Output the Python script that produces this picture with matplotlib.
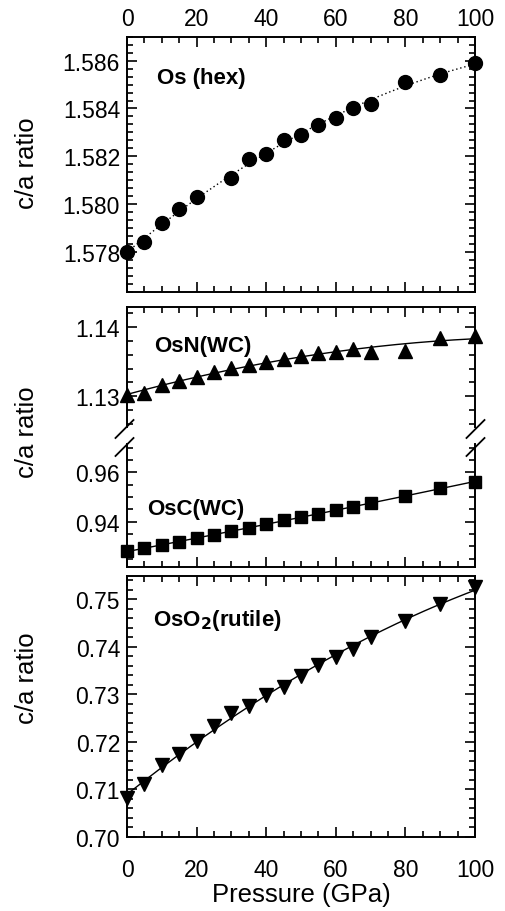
import numpy as np
import matplotlib
matplotlib.use("Agg")
import matplotlib.pyplot as plt
from matplotlib.ticker import MultipleLocator, AutoMinorLocator, FormatStrFormatter
from matplotlib.lines import Line2D

plt.rcParams['font.family'] = ['Liberation Sans', 'DejaVu Sans']

# ---------------- data ----------------
p_os = [0, 5, 10, 15, 20, 30, 35, 40, 45, 50, 55, 60, 65, 70, 80, 90, 100]
ca_os = [1.5780, 1.5784, 1.5792, 1.5798, 1.5803, 1.5811, 1.5819, 1.5821,
         1.5827, 1.5829, 1.5833, 1.5836, 1.5840, 1.5842, 1.5851, 1.5854, 1.5859]

p_wc = [0, 5, 10, 15, 20, 25, 30, 35, 40, 45, 50, 55, 60, 65, 70, 80, 90, 100]
ca_osn = [1.1302, 1.1305, 1.1316, 1.1322, 1.1328, 1.1335, 1.1341, 1.1345,
          1.1350, 1.1354, 1.1358, 1.1362, 1.1364, 1.1369, 1.1364, 1.1366,
          1.1385, 1.1387]
ca_osc = [0.9280, 0.9292, 0.9305, 0.9319, 0.9332, 0.9347, 0.9362, 0.9376,
          0.9389, 0.9405, 0.9419, 0.9431, 0.9446, 0.9459, 0.9474, 0.9505,
          0.9535, 0.9562]

p_oso2 = [0, 5, 10, 15, 20, 25, 30, 35, 40, 45, 50, 55, 60, 65, 70, 80, 90, 100]
ca_oso2 = [0.7081, 0.7111, 0.7151, 0.7174, 0.7202, 0.7234, 0.7260, 0.7276,
           0.7298, 0.7316, 0.7339, 0.7361, 0.7379, 0.7396, 0.7421, 0.7454,
           0.7490, 0.7525]

x_ticks = [0, 20, 40, 60, 80, 100]

# ---------------- layout helpers ----------------
W, H = 505, 912
fig = plt.figure(figsize=(W / 100, H / 100), dpi=100)

def add_ax(x0, y_top, x1, y_bot):
    return fig.add_axes([x0 / W, 1 - y_bot / H, (x1 - x0) / W, (y_bot - y_top) / H])

XL, XR = 127, 475
ax1 = add_ax(XL, 37.7, XR, 293)
ax2 = add_ax(XL, 308.3, XR, 428)
ax3 = add_ax(XL, 445, XR, 568.3)
ax4 = add_ax(XL, 577.3, XR, 837.7)

TICK_FS = 16.5
LAB_FS = 18.5
ANN_FS = 16

def style(ax):
    ax.set_xlim(0, 100)
    ax.xaxis.set_major_locator(MultipleLocator(20))
    ax.xaxis.set_minor_locator(MultipleLocator(5))
    ax.tick_params(which='both', direction='in', top=True, right=True,
                   width=1.2, labelsize=TICK_FS)
    ax.tick_params(which='major', length=7)
    ax.tick_params(which='minor', length=4)
    for s in ax.spines.values():
        s.set_linewidth(1.4)

def fit_line(ax, x, y, ls):
    c = np.polyfit(x, y, 2)
    xx = np.linspace(0, 100, 200)
    ax.plot(xx, np.polyval(c, xx), color='black', lw=1.0, ls=ls, zorder=2)

# ---- Os (hex) ----
style(ax1)
fit_line(ax1, p_os, ca_os, (0, (1, 2)))
ax1.plot(p_os, ca_os, 'o', color='black', ms=10, zorder=3, clip_on=False)
ax1.set_ylim(1.57633, 1.5870)
ax1.yaxis.set_major_locator(MultipleLocator(0.002))
ax1.yaxis.set_minor_locator(AutoMinorLocator(6))
ax1.yaxis.set_major_formatter(FormatStrFormatter('%.3f'))
ax1.tick_params(axis='x', labeltop=True, labelbottom=False, pad=5)
ax1.tick_params(axis='y', pad=5)
ax1.text(8.6, 1.58529, 'Os (hex)', fontsize=ANN_FS, fontweight='bold', va='center', ha='left')

# ---- OsN (WC) ----
style(ax2)
fit_line(ax2, p_wc, ca_osn, '-')
ax2.plot(p_wc, ca_osn, '^', color='black', ms=10, zorder=3, clip_on=False)
ax2.set_ylim(1.12552, 1.14288)
ax2.yaxis.set_major_locator(MultipleLocator(0.01))
ax2.yaxis.set_minor_locator(MultipleLocator(0.002))
ax2.yaxis.set_major_formatter(FormatStrFormatter('%.2f'))
ax2.spines['bottom'].set_visible(False)
ax2.tick_params(axis='x', which='both', bottom=False, labelbottom=False)
ax2.tick_params(axis='y', pad=5)
ax2.text(7.8, 1.13735, 'OsN(WC)', fontsize=ANN_FS, fontweight='bold', va='center', ha='left')

# ---- OsC (WC) ----
style(ax3)
fit_line(ax3, p_wc, ca_osc, '-')
ax3.plot(p_wc, ca_osc, 's', color='black', ms=8.5, zorder=3, clip_on=False)
ax3.set_ylim(0.9215, 0.97146)
ax3.yaxis.set_major_locator(MultipleLocator(0.02))
ax3.yaxis.set_minor_locator(MultipleLocator(0.005))
ax3.yaxis.set_major_formatter(FormatStrFormatter('%.2f'))
ax3.spines['top'].set_visible(False)
ax3.tick_params(axis='x', which='both', top=False, labelbottom=False)
ax3.tick_params(axis='y', pad=5)
ax3.text(5.7, 0.94543, 'OsC(WC)', fontsize=ANN_FS, fontweight='bold', va='center', ha='left')

# break marks
for xc in (124.5, 475.5):
    for yc in (430, 448):
        fig.add_artist(Line2D([(xc - 9) / W, (xc + 9) / W],
                              [1 - (yc + 9) / H, 1 - (yc - 9) / H],
                              color='black', lw=1.3))

# ---- OsO2 (rutile) ----
style(ax4)
fit_line(ax4, p_oso2, ca_oso2, '-')
ax4.plot(p_oso2, ca_oso2, 'v', color='black', ms=10, zorder=3, clip_on=False)
ax4.set_ylim(0.70, 0.7548)
ax4.yaxis.set_major_locator(MultipleLocator(0.01))
ax4.yaxis.set_minor_locator(MultipleLocator(0.002))
ax4.yaxis.set_major_formatter(FormatStrFormatter('%.2f'))
ax4.tick_params(axis='x', pad=15)
ax4.tick_params(axis='y', pad=5)
ax4.set_xticks(x_ticks)
ax4.text(7.6, 0.7458, r'OsO$_\mathbf{2}$(rutile)', fontsize=ANN_FS, fontweight='bold',
         va='center', ha='left')
ax4.set_xlabel('Pressure (GPa)', fontsize=LAB_FS, labelpad=1)

# y labels
for yc in (163, 432, 678):
    fig.text(27 / W, 1 - yc / H, 'c/a ratio', rotation=90, fontsize=LAB_FS,
             ha='center', va='center')

fig.savefig('out.png', dpi=100)
